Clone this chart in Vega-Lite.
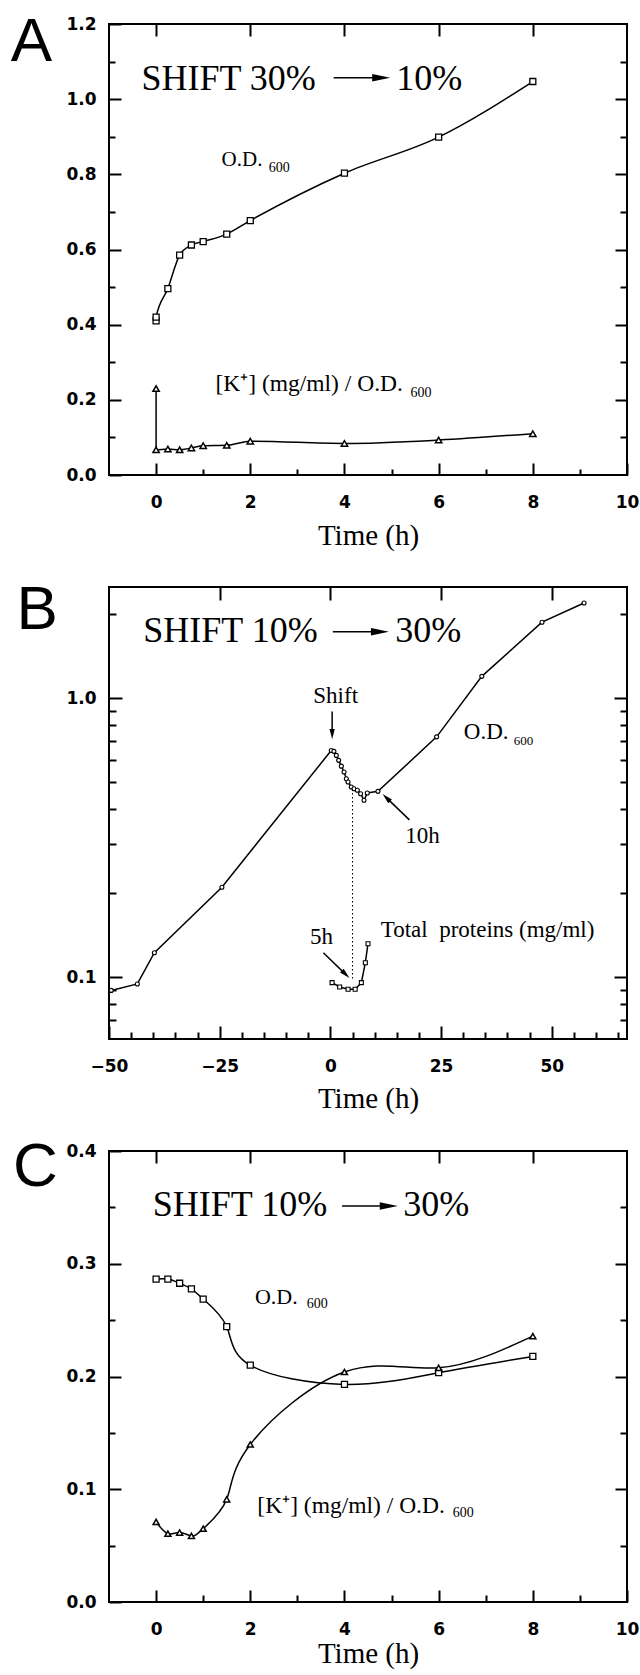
{
"$schema": "https://vega.github.io/schema/vega-lite/v6.json",
"background": "white",
"padding": {"left": 9, "top": 9, "right": 5, "bottom": 5},
"bounds": "flush",
"spacing": 112,
"datasets": {
"a_od": [{"t":0,"v":0.41,"i":0},{"t":0,"v":0.42,"i":1},{"t":0.25,"v":0.496,"i":2},{"t":0.5,"v":0.585,"i":3},{"t":0.75,"v":0.612,"i":4},{"t":1,"v":0.621,"i":5},{"t":1.5,"v":0.641,"i":6},{"t":2,"v":0.677,"i":7},{"t":4,"v":0.803,"i":8},{"t":6,"v":0.899,"i":9},{"t":8,"v":1.047,"i":10}],
"a_k": [{"t":0,"v":0.23,"i":0},{"t":0,"v":0.067,"i":1},{"t":0.25,"v":0.069,"i":2},{"t":0.5,"v":0.067,"i":3},{"t":0.75,"v":0.072,"i":4},{"t":1,"v":0.078,"i":5},{"t":1.5,"v":0.079,"i":6},{"t":2,"v":0.09,"i":7},{"t":4,"v":0.084,"i":8},{"t":6,"v":0.093,"i":9},{"t":8,"v":0.11,"i":10}],
"a_big": [{"t":-0.31,"v":1.0245,"s":"SHIFT 30%"},{"t":5.10,"v":1.0245,"s":"10%"}],
"a_odl": [{"t":1.39,"v":0.823,"s":"O.D."}],
"a_kl": [{"t":1.26,"v":0.224,"s":"[K⁺] (mg/ml) / O.D."}],
"a_sub": [{"t":2.39,"v":0.807,"s":"600"},{"t":5.4,"v":0.208,"s":"600"}],
"a_letter": [{"t":-2.65,"v":1.1016,"s":"A"}],
"a_arrow": [{"t":3.77,"t2":4.78,"v":1.057}],
"a_head": [{"t":4.78,"v":1.057}],
"b_od": [{"t":-49.5,"v":0.0896},{"t":-43.6,"v":0.0945},{"t":-39.75,"v":0.1223},{"t":-24.5,"v":0.21},{"t":0.2,"v":0.649},{"t":0.8,"v":0.644},{"t":1.35,"v":0.623},{"t":1.87,"v":0.598},{"t":2.48,"v":0.57},{"t":3.09,"v":0.543},{"t":3.61,"v":0.514},{"t":3.99,"v":0.5},{"t":4.73,"v":0.48},{"t":5.34,"v":0.473},{"t":6.09,"v":0.467},{"t":6.83,"v":0.454},{"t":7.6,"v":0.43},{"t":8.34,"v":0.457},{"t":10.75,"v":0.463},{"t":24,"v":0.726},{"t":34.2,"v":1.196},{"t":47.8,"v":1.87},{"t":57.3,"v":2.19}],
"b_pr": [{"t":0.38,"v":0.0955},{"t":2.1,"v":0.0922},{"t":4.0,"v":0.0905},{"t":5.6,"v":0.0905},{"t":7.0,"v":0.0955},{"t":7.9,"v":0.1126},{"t":8.5,"v":0.1317}],
"b_big": [{"t":-42.26,"v":1.583,"s":"SHIFT 10%"},{"t":14.65,"v":1.583,"s":"30%"}],
"b_mid": [{"t":30.15,"v":0.711,"s":"O.D."},{"t":16.9,"v":0.3014,"s":"10h"},{"t":-4.62,"v":0.1316,"s":"5h"},{"t":11.38,"v":0.1396,"s":"Total\u00a0 proteins (mg/ml)"}],
"b_shift": [{"t":1.2,"v":0.956,"s":"Shift"}],
"b_sub": [{"t":41.4,"v":0.681,"s":"600"}],
"b_letter": [{"t":-66.2,"v":1.77,"s":"B"}],
"b_arrows": [{"t":0.56,"t2":11.2,"v":1.729,"v2":1.729},{"t":0.4,"t2":0.4,"v":0.894,"v2":0.7425},{"t":17.85,"t2":12.64,"v":0.366,"v2":0.4397},{"t":-1.58,"t2":3.45,"v":0.1223,"v2":0.1023}],
"b_head_big": [{"t":11.2,"v":1.729}],
"b_head_down": [{"t":0.4,"v":0.7425}],
"b_head_10h": [{"t":12.64,"v":0.4397}],
"b_head_5h": [{"t":3.45,"v":0.1023}],
"b_dot": [{"t":5,"v":0.472,"v2":0.097}],
"c_od": [{"t":0,"v":0.2864},{"t":0.25,"v":0.2864},{"t":0.5,"v":0.2827},{"t":0.75,"v":0.2777},{"t":1,"v":0.2687},{"t":1.5,"v":0.2442},{"t":2,"v":0.21},{"t":4,"v":0.193},{"t":6,"v":0.2034},{"t":8,"v":0.2178}],
"c_k": [{"t":0,"v":0.071},{"t":0.25,"v":0.0606},{"t":0.5,"v":0.0616},{"t":0.75,"v":0.0586},{"t":1,"v":0.065},{"t":1.5,"v":0.0911},{"t":2,"v":0.1397},{"t":4,"v":0.204},{"t":6,"v":0.2077},{"t":8,"v":0.2358}],
"c_big": [{"t":-0.07,"v":0.342,"s":"SHIFT 10%"},{"t":5.25,"v":0.342,"s":"30%"}],
"c_odl": [{"t":2.10,"v":0.2645,"s":"O.D."}],
"c_kl": [{"t":2.15,"v":0.079,"s":"[K⁺] (mg/ml) / O.D."}],
"c_sub": [{"t":3.2,"v":0.261,"s":"600"},{"t":6.3,"v":0.075,"s":"600"}],
"c_letter": [{"t":-2.564,"v":0.369,"s":"C"}],
"c_arrow": [{"t":3.95,"t2":4.94,"v":0.3512}],
"c_head": [{"t":4.94,"v":0.3512}]
},
"vconcat": [
{
"width": 518, "height": 451,
"resolve": {"axis": {"x": "independent", "y": "independent"}},
"layer": [
{"data": {"name": "a_od"}, "mark": {"type": "line", "color": "black", "strokeWidth": 1.5, "interpolate": "monotone"},
 "encoding": {"x": {"field": "t", "type": "quantitative", "scale": {"domain": [-1, 10], "nice": false, "zero": false}, "axis": {"orient": "bottom", "values": [0,2,4,6,8,10], "tickSize": -12, "labelPadding": 31.5, "labelFont": "DejaVu Sans", "labelFontWeight": "bold", "labelFontSize": 17, "title": "Time (h)", "titleFont": "Liberation Serif", "titleFontSize": 29, "titleFontWeight": "normal", "titlePadding": 11}},
  "y": {"field": "v", "type": "quantitative", "scale": {"domain": [0, 1.2], "nice": false, "zero": false}, "axis": {"orient": "left", "values": [0,0.2,0.4,0.6,0.8,1.0,1.2], "format": ".1f", "tickSize": -12, "labelPadding": 25, "labelFont": "DejaVu Sans", "labelFontWeight": "bold", "labelFontSize": 17, "title": null}},
  "order": {"field": "i", "type": "quantitative"}}},
{"data": {"name": "a_od"}, "mark": {"type": "point", "shape": "square", "size": 36, "filled": true, "fill": "white", "stroke": "black", "strokeWidth": 1.3, "opacity": 1},
 "encoding": {"x": {"field": "t", "type": "quantitative", "scale": {"domain": [-1, 10], "nice": false, "zero": false}, "axis": {"orient": "bottom", "values": [1,3,5,7,9], "tickSize": -6, "labels": false, "title": null}},
  "y": {"field": "v", "type": "quantitative", "scale": {"domain": [0, 1.2], "nice": false, "zero": false}, "axis": {"orient": "left", "values": [0.1,0.3,0.5,0.7,0.9,1.1], "tickSize": -6, "labels": false, "title": null}}}},
{"data": {"name": "a_k"}, "mark": {"type": "line", "color": "black", "strokeWidth": 1.5, "interpolate": "monotone"},
 "encoding": {"x": {"field": "t", "type": "quantitative", "scale": {"domain": [-1, 10], "nice": false, "zero": false}, "axis": {"orient": "top", "values": [0,2,4,6,8], "tickSize": -12, "labels": false, "title": null}},
  "y": {"field": "v", "type": "quantitative", "scale": {"domain": [0, 1.2], "nice": false, "zero": false}, "axis": {"orient": "right", "values": [0.2,0.4,0.6,0.8,1.0], "tickSize": -12, "labels": false, "title": null}},
  "order": {"field": "i", "type": "quantitative"}}},
{"data": {"name": "a_k"}, "mark": {"type": "point", "shape": "triangle-up", "size": 40, "filled": true, "fill": "white", "stroke": "black", "strokeWidth": 1.5, "opacity": 1},
 "encoding": {"x": {"field": "t", "type": "quantitative", "scale": {"domain": [-1, 10], "nice": false, "zero": false}, "axis": null},
  "y": {"field": "v", "type": "quantitative", "scale": {"domain": [0, 1.2], "nice": false, "zero": false}, "axis": {"orient": "right", "values": [0.1,0.3,0.5,0.7,0.9,1.1], "tickSize": -7, "labels": false, "title": null}}}},
{"data": {"name": "a_big"}, "mark": {"type": "text", "font": "Liberation Serif", "fontSize": 36, "align": "left", "baseline": "alphabetic", "color": "black"},
 "encoding": {"x": {"field": "t", "type": "quantitative", "scale": {"domain": [-1, 10], "nice": false, "zero": false}, "axis": null}, "y": {"field": "v", "type": "quantitative", "scale": {"domain": [0, 1.2], "nice": false, "zero": false}, "axis": null}, "text": {"field": "s"}}},
{"data": {"name": "a_odl"}, "mark": {"type": "text", "font": "Liberation Serif", "fontSize": 21, "align": "left", "baseline": "alphabetic", "color": "black"},
 "encoding": {"x": {"field": "t", "type": "quantitative", "scale": {"domain": [-1, 10], "nice": false, "zero": false}, "axis": null}, "y": {"field": "v", "type": "quantitative", "scale": {"domain": [0, 1.2], "nice": false, "zero": false}, "axis": null}, "text": {"field": "s"}}},
{"data": {"name": "a_kl"}, "mark": {"type": "text", "font": "Liberation Serif", "fontSize": 23.5, "align": "left", "baseline": "alphabetic", "color": "black"},
 "encoding": {"x": {"field": "t", "type": "quantitative", "scale": {"domain": [-1, 10], "nice": false, "zero": false}, "axis": null}, "y": {"field": "v", "type": "quantitative", "scale": {"domain": [0, 1.2], "nice": false, "zero": false}, "axis": null}, "text": {"field": "s"}}},
{"data": {"name": "a_sub"}, "mark": {"type": "text", "font": "Liberation Serif", "fontSize": 14, "align": "left", "baseline": "alphabetic", "color": "black"},
 "encoding": {"x": {"field": "t", "type": "quantitative", "scale": {"domain": [-1, 10], "nice": false, "zero": false}, "axis": null}, "y": {"field": "v", "type": "quantitative", "scale": {"domain": [0, 1.2], "nice": false, "zero": false}, "axis": null}, "text": {"field": "s"}}},
{"data": {"name": "a_letter"}, "mark": {"type": "text", "font": "Liberation Sans", "fontSize": 62, "align": "center", "baseline": "alphabetic", "color": "black"},
 "encoding": {"x": {"field": "t", "type": "quantitative", "scale": {"domain": [-1, 10], "nice": false, "zero": false}, "axis": null}, "y": {"field": "v", "type": "quantitative", "scale": {"domain": [0, 1.2], "nice": false, "zero": false}, "axis": null}, "text": {"field": "s"}}},
{"data": {"name": "a_arrow"}, "mark": {"type": "rule", "color": "black", "strokeWidth": 1.6},
 "encoding": {"x": {"field": "t", "type": "quantitative", "scale": {"domain": [-1, 10], "nice": false, "zero": false}, "axis": null}, "x2": {"field": "t2"}, "y": {"field": "v", "type": "quantitative", "scale": {"domain": [0, 1.2], "nice": false, "zero": false}, "axis": null}}},
{"data": {"name": "a_head"}, "mark": {"type": "point", "shape": "M-1,-0.42L1,0L-1,0.42Z", "size": 324, "filled": true, "color": "black", "opacity": 1, "strokeWidth": 0},
 "encoding": {"x": {"field": "t", "type": "quantitative", "scale": {"domain": [-1, 10], "nice": false, "zero": false}, "axis": null}, "y": {"field": "v", "type": "quantitative", "scale": {"domain": [0, 1.2], "nice": false, "zero": false}, "axis": null}}}
]
},
{
"width": 518, "height": 452,
"resolve": {"axis": {"x": "independent", "y": "independent"}},
"layer": [
{"data": {"name": "b_od"}, "mark": {"type": "line", "color": "black", "strokeWidth": 1.5},
 "encoding": {"x": {"field": "t", "type": "quantitative", "scale": {"domain": [-50, 67], "nice": false, "zero": false}, "axis": {"orient": "bottom", "values": [-50,-25,0,25,50], "tickSize": -13, "labelPadding": 32.5, "labelFont": "DejaVu Sans", "labelFontWeight": "bold", "labelFontSize": 17, "title": "Time (h)", "titleFont": "Liberation Serif", "titleFontSize": 29, "titleFontWeight": "normal", "titlePadding": 10}},
  "y": {"field": "v", "type": "quantitative", "scale": {"type": "log", "domain": [0.06, 2.5], "nice": false}, "axis": {"orient": "left", "values": [0.1, 1], "format": ".1f", "tickSize": -13, "labelPadding": 26, "labelFont": "DejaVu Sans", "labelFontWeight": "bold", "labelFontSize": 17, "title": null}}}},
{"data": {"name": "b_od"}, "mark": {"type": "point", "shape": "circle", "size": 16, "filled": true, "fill": "white", "stroke": "black", "strokeWidth": 1.1, "opacity": 1},
 "encoding": {"x": {"field": "t", "type": "quantitative", "scale": {"domain": [-50, 67], "nice": false, "zero": false}, "axis": {"orient": "bottom", "values": [-45,-40,-35,-30,-20,-15,-10,-5,5,10,15,20,30,35,40,45,55,60,65], "tickSize": -7, "labels": false, "title": null}},
  "y": {"field": "v", "type": "quantitative", "scale": {"type": "log", "domain": [0.06, 2.5], "nice": false}, "axis": {"orient": "left", "values": [0.07,0.08,0.09,0.2,0.3,0.4,0.5,0.6,0.7,0.8,0.9,2], "tickSize": -7, "labels": false, "title": null}}}},
{"data": {"name": "b_pr"}, "mark": {"type": "line", "color": "black", "strokeWidth": 1.5},
 "encoding": {"x": {"field": "t", "type": "quantitative", "scale": {"domain": [-50, 67], "nice": false, "zero": false}, "axis": {"orient": "top", "values": [-25,0,25,50], "tickSize": -13, "labels": false, "title": null}},
  "y": {"field": "v", "type": "quantitative", "scale": {"type": "log", "domain": [0.06, 2.5], "nice": false}, "axis": {"orient": "right", "values": [0.1, 1], "tickSize": -13, "labels": false, "title": null}}}},
{"data": {"name": "b_pr"}, "mark": {"type": "point", "shape": "square", "size": 16, "filled": true, "fill": "white", "stroke": "black", "strokeWidth": 1.1, "opacity": 1},
 "encoding": {"x": {"field": "t", "type": "quantitative", "scale": {"domain": [-50, 67], "nice": false, "zero": false}, "axis": null},
  "y": {"field": "v", "type": "quantitative", "scale": {"type": "log", "domain": [0.06, 2.5], "nice": false}, "axis": {"orient": "right", "values": [0.07,0.08,0.09,0.2,0.3,0.4,0.5,0.6,0.7,0.8,0.9,2], "tickSize": -7, "labels": false, "title": null}}}},
{"data": {"name": "b_dot"}, "mark": {"type": "rule", "color": "black", "strokeWidth": 1, "strokeDash": [1.5, 2.5]},
 "encoding": {"x": {"field": "t", "type": "quantitative", "scale": {"domain": [-50, 67], "nice": false, "zero": false}, "axis": null}, "y": {"field": "v", "type": "quantitative", "scale": {"type": "log", "domain": [0.06, 2.5], "nice": false}, "axis": null}, "y2": {"field": "v2"}}},
{"data": {"name": "b_arrows"}, "mark": {"type": "rule", "color": "black", "strokeWidth": 1.5},
 "encoding": {"x": {"field": "t", "type": "quantitative", "scale": {"domain": [-50, 67], "nice": false, "zero": false}, "axis": null}, "x2": {"field": "t2"}, "y": {"field": "v", "type": "quantitative", "scale": {"type": "log", "domain": [0.06, 2.5], "nice": false}, "axis": null}, "y2": {"field": "v2"}}},
{"data": {"name": "b_head_big"}, "mark": {"type": "point", "shape": "M-1,-0.42L1,0L-1,0.42Z", "size": 324, "filled": true, "color": "black", "opacity": 1, "strokeWidth": 0},
 "encoding": {"x": {"field": "t", "type": "quantitative", "scale": {"domain": [-50, 67], "nice": false, "zero": false}, "axis": null}, "y": {"field": "v", "type": "quantitative", "scale": {"type": "log", "domain": [0.06, 2.5], "nice": false}, "axis": null}}},
{"data": {"name": "b_head_down"}, "mark": {"type": "point", "shape": "M-1,-0.5L1,0L-1,0.5Z", "size": 110, "angle": 90, "filled": true, "color": "black", "opacity": 1, "strokeWidth": 0},
 "encoding": {"x": {"field": "t", "type": "quantitative", "scale": {"domain": [-50, 67], "nice": false, "zero": false}, "axis": null}, "y": {"field": "v", "type": "quantitative", "scale": {"type": "log", "domain": [0.06, 2.5], "nice": false}, "axis": null}}},
{"data": {"name": "b_head_10h"}, "mark": {"type": "point", "shape": "M-1,-0.5L1,0L-1,0.5Z", "size": 110, "angle": 224, "filled": true, "color": "black", "opacity": 1, "strokeWidth": 0},
 "encoding": {"x": {"field": "t", "type": "quantitative", "scale": {"domain": [-50, 67], "nice": false, "zero": false}, "axis": null}, "y": {"field": "v", "type": "quantitative", "scale": {"type": "log", "domain": [0.06, 2.5], "nice": false}, "axis": null}}},
{"data": {"name": "b_head_5h"}, "mark": {"type": "point", "shape": "M-1,-0.5L1,0L-1,0.5Z", "size": 110, "angle": 44, "filled": true, "color": "black", "opacity": 1, "strokeWidth": 0},
 "encoding": {"x": {"field": "t", "type": "quantitative", "scale": {"domain": [-50, 67], "nice": false, "zero": false}, "axis": null}, "y": {"field": "v", "type": "quantitative", "scale": {"type": "log", "domain": [0.06, 2.5], "nice": false}, "axis": null}}},
{"data": {"name": "b_big"}, "mark": {"type": "text", "font": "Liberation Serif", "fontSize": 36, "align": "left", "baseline": "alphabetic", "color": "black"},
 "encoding": {"x": {"field": "t", "type": "quantitative", "scale": {"domain": [-50, 67], "nice": false, "zero": false}, "axis": null}, "y": {"field": "v", "type": "quantitative", "scale": {"type": "log", "domain": [0.06, 2.5], "nice": false}, "axis": null}, "text": {"field": "s"}}},
{"data": {"name": "b_mid"}, "mark": {"type": "text", "font": "Liberation Serif", "fontSize": 23, "align": "left", "baseline": "alphabetic", "color": "black"},
 "encoding": {"x": {"field": "t", "type": "quantitative", "scale": {"domain": [-50, 67], "nice": false, "zero": false}, "axis": null}, "y": {"field": "v", "type": "quantitative", "scale": {"type": "log", "domain": [0.06, 2.5], "nice": false}, "axis": null}, "text": {"field": "s"}}},
{"data": {"name": "b_shift"}, "mark": {"type": "text", "font": "Liberation Serif", "fontSize": 23, "align": "center", "baseline": "alphabetic", "color": "black"},
 "encoding": {"x": {"field": "t", "type": "quantitative", "scale": {"domain": [-50, 67], "nice": false, "zero": false}, "axis": null}, "y": {"field": "v", "type": "quantitative", "scale": {"type": "log", "domain": [0.06, 2.5], "nice": false}, "axis": null}, "text": {"field": "s"}}},
{"data": {"name": "b_sub"}, "mark": {"type": "text", "font": "Liberation Serif", "fontSize": 13, "align": "left", "baseline": "alphabetic", "color": "black"},
 "encoding": {"x": {"field": "t", "type": "quantitative", "scale": {"domain": [-50, 67], "nice": false, "zero": false}, "axis": null}, "y": {"field": "v", "type": "quantitative", "scale": {"type": "log", "domain": [0.06, 2.5], "nice": false}, "axis": null}, "text": {"field": "s"}}},
{"data": {"name": "b_letter"}, "mark": {"type": "text", "font": "Liberation Sans", "fontSize": 62, "align": "center", "baseline": "alphabetic", "color": "black"},
 "encoding": {"x": {"field": "t", "type": "quantitative", "scale": {"domain": [-50, 67], "nice": false, "zero": false}, "axis": null}, "y": {"field": "v", "type": "quantitative", "scale": {"type": "log", "domain": [0.06, 2.5], "nice": false}, "axis": null}, "text": {"field": "s"}}}
]
},
{
"width": 518, "height": 451,
"resolve": {"axis": {"x": "independent", "y": "independent"}},
"layer": [
{"data": {"name": "c_od"}, "mark": {"type": "line", "color": "black", "strokeWidth": 1.5, "interpolate": "natural"},
 "encoding": {"x": {"field": "t", "type": "quantitative", "scale": {"domain": [-1, 10], "nice": false, "zero": false}, "axis": {"orient": "bottom", "values": [0,2,4,6,8,10], "tickSize": -12, "labelPadding": 31.5, "labelFont": "DejaVu Sans", "labelFontWeight": "bold", "labelFontSize": 17, "title": "Time (h)", "titleFont": "Liberation Serif", "titleFontSize": 29, "titleFontWeight": "normal", "titlePadding": 2}},
  "y": {"field": "v", "type": "quantitative", "scale": {"domain": [0, 0.4], "nice": false, "zero": false}, "axis": {"orient": "left", "values": [0,0.1,0.2,0.3,0.4], "format": ".1f", "tickSize": -12, "labelPadding": 25, "labelFont": "DejaVu Sans", "labelFontWeight": "bold", "labelFontSize": 17, "title": null}}}},
{"data": {"name": "c_od"}, "mark": {"type": "point", "shape": "square", "size": 36, "filled": true, "fill": "white", "stroke": "black", "strokeWidth": 1.3, "opacity": 1},
 "encoding": {"x": {"field": "t", "type": "quantitative", "scale": {"domain": [-1, 10], "nice": false, "zero": false}, "axis": {"orient": "bottom", "values": [1,3,5,7,9], "tickSize": -7, "labels": false, "title": null}},
  "y": {"field": "v", "type": "quantitative", "scale": {"domain": [0, 0.4], "nice": false, "zero": false}, "axis": {"orient": "left", "values": [0.05,0.15,0.25,0.35], "tickSize": -6, "labels": false, "title": null}}}},
{"data": {"name": "c_k"}, "mark": {"type": "line", "color": "black", "strokeWidth": 1.5, "interpolate": "natural"},
 "encoding": {"x": {"field": "t", "type": "quantitative", "scale": {"domain": [-1, 10], "nice": false, "zero": false}, "axis": {"orient": "top", "values": [0,2,4,6,8], "tickSize": -12, "labels": false, "title": null}},
  "y": {"field": "v", "type": "quantitative", "scale": {"domain": [0, 0.4], "nice": false, "zero": false}, "axis": {"orient": "right", "values": [0.1,0.2,0.3], "tickSize": -12, "labels": false, "title": null}}}},
{"data": {"name": "c_k"}, "mark": {"type": "point", "shape": "triangle-up", "size": 36, "filled": true, "fill": "white", "stroke": "black", "strokeWidth": 1.5, "opacity": 1},
 "encoding": {"x": {"field": "t", "type": "quantitative", "scale": {"domain": [-1, 10], "nice": false, "zero": false}, "axis": null},
  "y": {"field": "v", "type": "quantitative", "scale": {"domain": [0, 0.4], "nice": false, "zero": false}, "axis": {"orient": "right", "values": [0.05,0.15,0.25,0.35], "tickSize": -7, "labels": false, "title": null}}}},
{"data": {"name": "c_big"}, "mark": {"type": "text", "font": "Liberation Serif", "fontSize": 36, "align": "left", "baseline": "alphabetic", "color": "black"},
 "encoding": {"x": {"field": "t", "type": "quantitative", "scale": {"domain": [-1, 10], "nice": false, "zero": false}, "axis": null}, "y": {"field": "v", "type": "quantitative", "scale": {"domain": [0, 0.4], "nice": false, "zero": false}, "axis": null}, "text": {"field": "s"}}},
{"data": {"name": "c_odl"}, "mark": {"type": "text", "font": "Liberation Serif", "fontSize": 22, "align": "left", "baseline": "alphabetic", "color": "black"},
 "encoding": {"x": {"field": "t", "type": "quantitative", "scale": {"domain": [-1, 10], "nice": false, "zero": false}, "axis": null}, "y": {"field": "v", "type": "quantitative", "scale": {"domain": [0, 0.4], "nice": false, "zero": false}, "axis": null}, "text": {"field": "s"}}},
{"data": {"name": "c_kl"}, "mark": {"type": "text", "font": "Liberation Serif", "fontSize": 23.5, "align": "left", "baseline": "alphabetic", "color": "black"},
 "encoding": {"x": {"field": "t", "type": "quantitative", "scale": {"domain": [-1, 10], "nice": false, "zero": false}, "axis": null}, "y": {"field": "v", "type": "quantitative", "scale": {"domain": [0, 0.4], "nice": false, "zero": false}, "axis": null}, "text": {"field": "s"}}},
{"data": {"name": "c_sub"}, "mark": {"type": "text", "font": "Liberation Serif", "fontSize": 14, "align": "left", "baseline": "alphabetic", "color": "black"},
 "encoding": {"x": {"field": "t", "type": "quantitative", "scale": {"domain": [-1, 10], "nice": false, "zero": false}, "axis": null}, "y": {"field": "v", "type": "quantitative", "scale": {"domain": [0, 0.4], "nice": false, "zero": false}, "axis": null}, "text": {"field": "s"}}},
{"data": {"name": "c_letter"}, "mark": {"type": "text", "font": "Liberation Sans", "fontSize": 62, "align": "center", "baseline": "alphabetic", "color": "black"},
 "encoding": {"x": {"field": "t", "type": "quantitative", "scale": {"domain": [-1, 10], "nice": false, "zero": false}, "axis": null}, "y": {"field": "v", "type": "quantitative", "scale": {"domain": [0, 0.4], "nice": false, "zero": false}, "axis": null}, "text": {"field": "s"}}},
{"data": {"name": "c_arrow"}, "mark": {"type": "rule", "color": "black", "strokeWidth": 1.6},
 "encoding": {"x": {"field": "t", "type": "quantitative", "scale": {"domain": [-1, 10], "nice": false, "zero": false}, "axis": null}, "x2": {"field": "t2"}, "y": {"field": "v", "type": "quantitative", "scale": {"domain": [0, 0.4], "nice": false, "zero": false}, "axis": null}}},
{"data": {"name": "c_head"}, "mark": {"type": "point", "shape": "M-1,-0.42L1,0L-1,0.42Z", "size": 324, "filled": true, "color": "black", "opacity": 1, "strokeWidth": 0},
 "encoding": {"x": {"field": "t", "type": "quantitative", "scale": {"domain": [-1, 10], "nice": false, "zero": false}, "axis": null}, "y": {"field": "v", "type": "quantitative", "scale": {"domain": [0, 0.4], "nice": false, "zero": false}, "axis": null}}}
]
}
],
"config": {
"view": {"stroke": "black", "strokeWidth": 2},
"axis": {"grid": false, "domain": false, "tickColor": "black", "tickWidth": 2, "labelColor": "black", "titleColor": "black", "labelFlush": false, "labelOverlap": false}
}
}
